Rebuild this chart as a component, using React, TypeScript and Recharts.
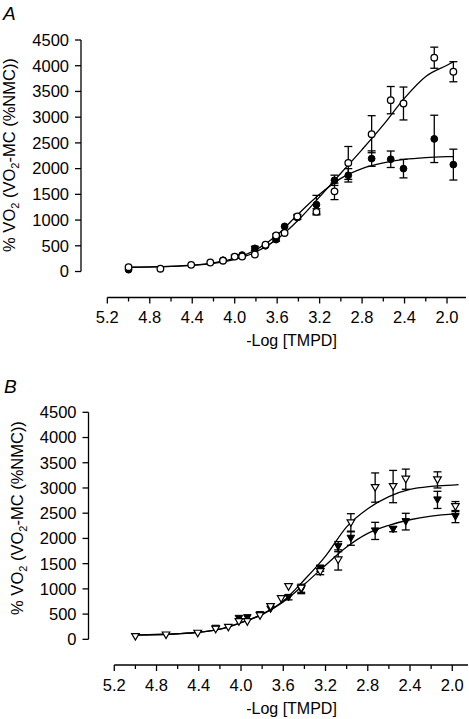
import React from "react";
import {
  ComposedChart,
  Line,
  Scatter,
  XAxis,
  YAxis,
  ErrorBar,
  ReferenceLine,
} from "recharts";

const FONT = '"Liberation Sans", Arial, Helvetica, sans-serif';

// axes
const xMajorTicks = [5.2, 4.8, 4.4, 4.0, 3.6, 3.2, 2.8, 2.4, 2.0];
const xMinorTicks = [5.0, 4.6, 4.2, 3.8, 3.4, 3.0, 2.6, 2.2];
const yTicks = [0, 500, 1000, 1500, 2000, 2500, 3000, 3500, 4000, 4500];
const xTitle = "-Log [TMPD]";

// panel A: open and filled circles (mean, s.e.m.)
const openA = [
  { x: 5.0, y: 84 },
  { x: 4.7, y: 55 },
  { x: 4.41, y: 130 },
  { x: 4.23, y: 175 },
  { x: 4.11, y: 210 },
  { x: 4.0, y: 290, err: 30 },
  { x: 3.93, y: 292 },
  { x: 3.81, y: 331 },
  { x: 3.71, y: 520 },
  { x: 3.61, y: 700, err: 30 },
  { x: 3.53, y: 750 },
  { x: 3.41, y: 1070, err: 40 },
  { x: 3.23, y: 1160, err: 60 },
  { x: 3.06, y: 1558, err: 160 },
  { x: 2.93, y: 2110, err: 320 },
  { x: 2.71, y: 2669, err: 360 },
  { x: 2.53, y: 3331, err: 265 },
  { x: 2.41, y: 3266, err: 320 },
  { x: 2.12, y: 4156, err: 205 },
  { x: 1.94, y: 3883, err: 195 },
];

const filledA = [
  { x: 5.0, y: 35 },
  { x: 4.11, y: 220 },
  { x: 3.93, y: 320 },
  { x: 3.81, y: 450, err: 40 },
  { x: 3.71, y: 500 },
  { x: 3.61, y: 620, err: 30 },
  { x: 3.53, y: 877 },
  { x: 3.41, y: 1050, err: 40 },
  { x: 3.23, y: 1300, err: 180 },
  { x: 3.06, y: 1773, err: 100 },
  { x: 2.93, y: 1870, err: 130 },
  { x: 2.71, y: 2195, err: 150 },
  { x: 2.53, y: 2182, err: 160 },
  { x: 2.41, y: 2000, err: 180 },
  { x: 2.12, y: 2578, err: 460 },
  { x: 1.94, y: 2078, err: 300 },
];

const openFitA = [
  { x: 5.0, y: 85 },
  { x: 4.6, y: 100 },
  { x: 4.4, y: 120 },
  { x: 4.2, y: 160 },
  { x: 4.0, y: 235 },
  { x: 3.8, y: 380 },
  { x: 3.6, y: 630 },
  { x: 3.4, y: 1000 },
  { x: 3.2, y: 1450 },
  { x: 3.0, y: 1910 },
  { x: 2.8, y: 2370 },
  { x: 2.6, y: 2850 },
  { x: 2.4, y: 3370 },
  { x: 2.2, y: 3790 },
  { x: 2.0, y: 4010 },
  { x: 1.94, y: 4077 },
];

const filledFitA = [
  { x: 5.0, y: 80 },
  { x: 4.6, y: 100 },
  { x: 4.4, y: 125 },
  { x: 4.2, y: 170 },
  { x: 4.0, y: 255 },
  { x: 3.8, y: 420 },
  { x: 3.6, y: 710 },
  { x: 3.4, y: 1120 },
  { x: 3.2, y: 1500 },
  { x: 3.0, y: 1810 },
  { x: 2.8, y: 2000 },
  { x: 2.6, y: 2110 },
  { x: 2.4, y: 2180 },
  { x: 2.2, y: 2215 },
  { x: 2.0, y: 2232 },
  { x: 1.94, y: 2235 },
];

// panel B: open and filled inverted triangles
const openB = [
  { x: 5.0, y: 55 },
  { x: 4.71, y: 86 },
  { x: 4.41, y: 120 },
  { x: 4.24, y: 200 },
  { x: 4.12, y: 238 },
  { x: 4.02, y: 350 },
  { x: 3.94, y: 350 },
  { x: 3.82, y: 470 },
  { x: 3.72, y: 648 },
  { x: 3.62, y: 806 },
  { x: 3.55, y: 1044 },
  { x: 3.43, y: 1012, err: 80 },
  { x: 3.25, y: 1341, err: 60 },
  { x: 3.08, y: 1573, err: 200 },
  { x: 2.96, y: 2310, err: 180 },
  { x: 2.73, y: 3008, err: 290 },
  { x: 2.56, y: 3028, err: 320 },
  { x: 2.44, y: 3174, err: 200 },
  { x: 2.14, y: 3160, err: 160 },
  { x: 1.97, y: 2631, err: 100 },
];

const filledB = [
  { x: 4.24, y: 220 },
  { x: 4.02, y: 416 },
  { x: 3.94, y: 430 },
  { x: 3.82, y: 490 },
  { x: 3.72, y: 600 },
  { x: 3.55, y: 832, err: 50 },
  { x: 3.43, y: 985, err: 80 },
  { x: 3.25, y: 1408, err: 60 },
  { x: 3.08, y: 1837, err: 100 },
  { x: 2.96, y: 2004, err: 140 },
  { x: 2.73, y: 2149, err: 170 },
  { x: 2.56, y: 2182, err: 50 },
  { x: 2.44, y: 2333, err: 165 },
  { x: 2.14, y: 2764, err: 170 },
  { x: 1.97, y: 2433, err: 120 },
];

const openFitB = [
  { x: 5.0, y: 85 },
  { x: 4.6, y: 110 },
  { x: 4.4, y: 140 },
  { x: 4.2, y: 200 },
  { x: 4.0, y: 330 },
  { x: 3.8, y: 500 },
  { x: 3.6, y: 760 },
  { x: 3.4, y: 1180 },
  { x: 3.2, y: 1650 },
  { x: 3.0, y: 2230 },
  { x: 2.8, y: 2590 },
  { x: 2.6, y: 2830 },
  { x: 2.4, y: 2970 },
  { x: 2.2, y: 3030 },
  { x: 2.0, y: 3058 },
  { x: 1.94, y: 3065 },
];

const filledFitB = [
  { x: 5.0, y: 85 },
  { x: 4.6, y: 110 },
  { x: 4.4, y: 140 },
  { x: 4.2, y: 200 },
  { x: 4.0, y: 330 },
  { x: 3.8, y: 490 },
  { x: 3.6, y: 740 },
  { x: 3.4, y: 1090 },
  { x: 3.2, y: 1470 },
  { x: 3.0, y: 1830 },
  { x: 2.8, y: 2100 },
  { x: 2.6, y: 2260 },
  { x: 2.4, y: 2370 },
  { x: 2.2, y: 2440 },
  { x: 2.0, y: 2480 },
  { x: 1.94, y: 2486 },
];

const allXTicks = [...xMajorTicks, ...xMinorTicks].sort((a, b) => b - a);

function XTick({ x, y, payload }: any) {
  const v = payload.value;
  const major = xMajorTicks.some((t) => Math.abs(t - v) < 1e-6);
  return (
    <g>
      <line x1={x} y1={y} x2={x} y2={y + (major ? 6 : 4)} stroke="#000" strokeWidth={1.3} />
      {major && (
        <text x={x} y={y + 25.5} textAnchor="middle" fontSize={16.5} fontFamily={FONT} fill="#000">
          {v.toFixed(1)}
        </text>
      )}
    </g>
  );
}

const OpenCircle = (p: any) => (
  <circle cx={p.cx} cy={p.cy} r={3.3} fill="#fff" stroke="#000" strokeWidth={1.3} />
);
const FilledCircle = (p: any) => (
  <circle cx={p.cx} cy={p.cy} r={3.4} fill="#000" stroke="#000" strokeWidth={1} />
);
const triPath = (cx: number, cy: number) =>
  `M${cx - 3.8},${cy - 3}L${cx + 3.8},${cy - 3}L${cx},${cy + 3.6}Z`;
const OpenTriangle = (p: any) => (
  <path d={triPath(p.cx, p.cy)} fill="#fff" stroke="#000" strokeWidth={1.2} />
);
const FilledTriangle = (p: any) => (
  <path d={triPath(p.cx, p.cy)} fill="#000" stroke="#000" strokeWidth={1} />
);

function YLabel({ cx, cy }: { cx: number; cy: number }) {
  return (
    <div
      style={{
        position: "absolute",
        left: cx,
        top: cy,
        transform: "translate(-50%, -50%) rotate(-90deg)",
        whiteSpace: "nowrap",
        fontSize: 16.5,
        lineHeight: "18px",
      }}
    >
      % VO<sub style={{ fontSize: 11 }}>2</sub> (VO<sub style={{ fontSize: 11 }}>2</sub>-MC (%NMC))
    </div>
  );
}

function Panel(props: any) {
  const { top, height, margin, xDomain, yDomain, open, filled, openFit, filledFit, OpenShape, FilledShape } = props;
  return (
    <div style={{ position: "absolute", left: 0, top }}>
      <ComposedChart width={469} height={height} margin={margin}>
        <XAxis
          dataKey="x"
          type="number"
          domain={xDomain}
          allowDataOverflow
          reversed
          ticks={allXTicks}
          interval={0}
          axisLine={false}
          tickLine={false}
          tickSize={0}
          tickMargin={0}
          height={30}
          tick={<XTick />}
        />
        <YAxis
          dataKey="y"
          type="number"
          domain={yDomain}
          allowDataOverflow
          ticks={yTicks}
          interval={0}
          width={60}
          axisLine={false}
          tickSize={6}
          tickMargin={6}
          tickLine={{ stroke: "#000", strokeWidth: 1.3 }}
          tick={{ fontSize: 16.5, fill: "#000", fontFamily: FONT }}
        />
        <ReferenceLine
          segment={[{ x: xDomain[1], y: 0 }, { x: xDomain[1], y: 4500 }]}
          stroke="#000"
          strokeWidth={1.3}
          ifOverflow="visible"
        />
        <ReferenceLine
          segment={[{ x: 5.2, y: yDomain[0] }, { x: xDomain[0], y: yDomain[0] }]}
          stroke="#000"
          strokeWidth={1.3}
          ifOverflow="visible"
        />
        <Line data={openFit} dataKey="y" type="monotone" stroke="#000" strokeWidth={1.3} dot={false} isAnimationActive={false} />
        <Line data={filledFit} dataKey="y" type="monotone" stroke="#000" strokeWidth={1.3} dot={false} isAnimationActive={false} />
        <Scatter data={filled} dataKey="y" shape={FilledShape} isAnimationActive={false}>
          <ErrorBar dataKey="err" direction="y" width={4} stroke="#000" strokeWidth={1.3} />
        </Scatter>
        <Scatter data={open} dataKey="y" shape={OpenShape} isAnimationActive={false}>
          <ErrorBar dataKey="err" direction="y" width={4} stroke="#000" strokeWidth={1.3} />
        </Scatter>
      </ComposedChart>
    </div>
  );
}

export default function App() {
  return (
    <div
      style={{
        position: "absolute",
        left: 0,
        top: 0,
        width: 469,
        height: 719,
        background: "#fff",
        fontFamily: FONT,
        color: "#000",
        overflow: "hidden",
      }}
    >
      <Panel
        top={0}
        height={360}
        margin={{ top: 40, left: 21, right: 3, bottom: 32.5 }}
        xDomain={[1.821, 5.448]}
        yDomain={[-505, 4500]}
        open={openA}
        filled={filledA}
        openFit={openFitA}
        filledFit={filledFitA}
        OpenShape={OpenCircle}
        FilledShape={FilledCircle}
      />
      <Panel
        top={360}
        height={359}
        margin={{ top: 52.3, left: 28.5, right: 1, bottom: 24 }}
        xDomain={[1.851, 5.444]}
        yDomain={[-509, 4500]}
        open={openB}
        filled={filledB}
        openFit={openFitB}
        filledFit={filledFitB}
        OpenShape={OpenTriangle}
        FilledShape={FilledTriangle}
      />
      <div style={{ position: "absolute", left: 3, top: 3.5, fontSize: 19, fontStyle: "italic", lineHeight: 1 }}>A</div>
      <div style={{ position: "absolute", left: 4, top: 376.5, fontSize: 19, fontStyle: "italic", lineHeight: 1 }}>B</div>
      <YLabel cx={12} cy={155} />
      <YLabel cx={20} cy={518} />
      <div style={{ position: "absolute", left: 0, width: 583, top: 333, fontSize: 16, lineHeight: 1, textAlign: "center" }}>
        {xTitle}
      </div>
      <div style={{ position: "absolute", left: 0, width: 583, top: 700.7, fontSize: 16, lineHeight: 1, textAlign: "center" }}>
        {xTitle}
      </div>
    </div>
  );
}
